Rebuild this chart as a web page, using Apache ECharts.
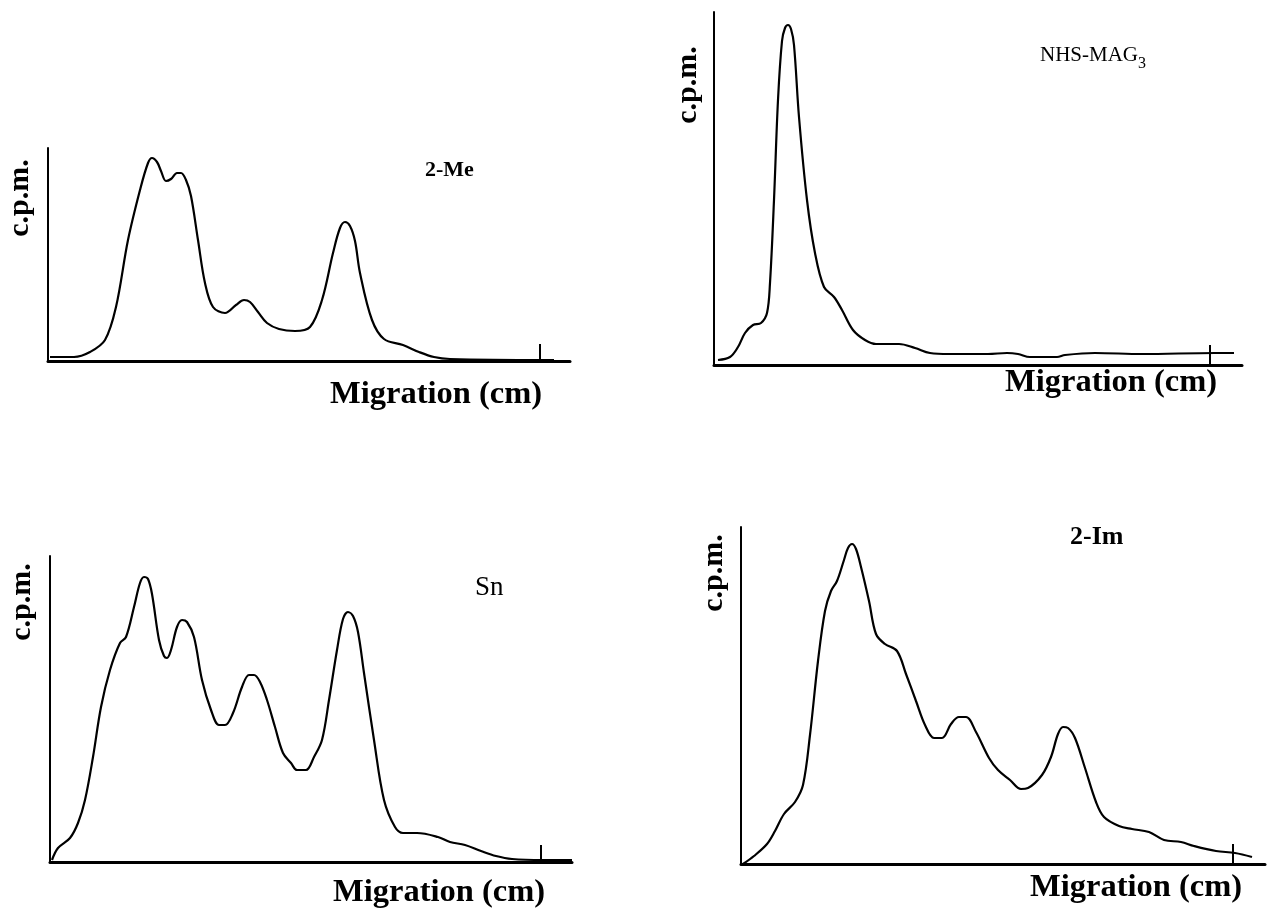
<!DOCTYPE html>
<html><head><meta charset="utf-8">
<script src="https://cdn.jsdelivr.net/npm/echarts@6/dist/echarts.min.js"></script>
<style>html,body{margin:0;padding:0;background:#fff}#c{width:1277px;height:909px}</style>
</head><body><div id="c"></div><script>
// Panel titles
const panelTitles = ['2-Me', 'NHS-MAG', 'Sn', '2-Im'];
const nhsSubscript = '3';
const yAxisLabel = 'c.p.m.';
const xAxisLabel = 'Migration (cm)';

// Radioactivity scans: [migration, counts] (relative units)
const me2Data = [[2,4],[26,4],[42,9],[57,21],[68,54],[80,121],[92,171],[100,198],[104,203],[109,199],[113,190],[118,180],[123,182],[129,188],[133,188],[138,181],[143,165],[150,121],[157,78],[165,54],[177,48],[188,56],[196,61],[202,59],[210,49],[219,38],[231,32],[247,30],[262,34],[274,61],[285,108],[292,133],[297,139],[302,135],[307,120],[312,88],[324,41],[336,22],[355,16],[371,9],[386,4],[402,2],[498,1],[506,1]];
const nhsData = [[4,5],[16,8],[24,18],[31,32],[39,40],[47,42],[53,52],[56,82],[60,165],[64,265],[68,324],[71,337],[74,340],[77,336],[80,320],[85,248],[93,165],[101,112],[110,78],[120,68],[128,55],[139,35],[151,25],[162,21],[185,21],[201,17],[216,12],[235,11],[274,11],[293,12],[304,11],[316,8],[343,8],[351,10],[381,12],[428,11],[501,12],[520,12]];
const snData = [[2,2],[8,14],[20,24],[28,39],[35,62],[43,105],[51,155],[60,192],[70,219],[76,225],[84,255],[90,279],[94,285],[98,283],[102,268],[109,222],[114,206],[117,204],[121,212],[127,235],[132,242],[137,240],[144,225],[152,182],[161,152],[169,137],[175,137],[183,149],[192,175],[199,187],[204,187],[210,180],[217,162],[225,135],[233,109],[241,99],[247,92],[256,92],[264,105],[272,122],[279,162],[287,212],[293,243],[298,250],[303,246],[308,230],[314,189],[324,122],[334,62],[345,35],[353,29],[367,29],[388,25],[400,20],[415,17],[431,11],[446,6],[462,3],[493,2],[522,2]];
const im2Data = [[2,0],[13,8],[26,20],[34,33],[43,50],[54,62],[62,79],[69,129],[77,203],[84,253],[90,273],[96,283],[103,304],[107,316],[111,320],[115,315],[120,297],[128,263],[135,230],[144,220],[156,213],[165,190],[175,163],[184,139],[193,126],[201,126],[210,140],[218,147],[225,147],[235,132],[248,106],[257,94],[269,84],[280,75],[287,76],[301,89],[310,107],[317,130],[322,137],[327,136],[334,126],[344,96],[355,62],[363,47],[378,38],[391,35],[408,32],[423,24],[440,22],[453,18],[475,13],[494,11],[511,7]];

// Solvent-front markers: [migration, bottom, top]
const fronts = [[492, 0, 17], [496, 0, 20], [491, 0, 17], [492, 0, 20]];
const seriesData = [me2Data, nhsData, snData, im2Data];

const grids = [
  {left: 48, top: 148, width: 522, height: 213},
  {left: 714, top: 12, width: 528, height: 353},
  {left: 50, top: 556, width: 522, height: 306},
  {left: 741, top: 527, width: 524, height: 337}
];

const font = 'Liberation Serif, Times New Roman, serif';
const xAxes = grids.map((g, i) => ({
  type: 'value', gridIndex: i, min: 0, max: g.width,
  axisLine: {show: true, onZero: false, lineStyle: {color: '#000', width: 3}},
  axisTick: {show: false}, axisLabel: {show: false}, splitLine: {show: false}
}));
const yAxes = grids.map((g, i) => ({
  type: 'value', gridIndex: i, min: 0, max: g.height,
  axisLine: {show: true, lineStyle: {color: '#000', width: 2}},
  axisTick: {show: false}, axisLabel: {show: false}, splitLine: {show: false}
}));

const series = [];
seriesData.forEach((d, i) => {
  series.push({
    type: 'line', xAxisIndex: i, yAxisIndex: i, data: d, smooth: 0.35,
    showSymbol: false, symbol: 'none', silent: true,
    lineStyle: {color: '#000', width: 2.2}
  });
  const f = fronts[i];
  series.push({
    type: 'line', xAxisIndex: i, yAxisIndex: i,
    data: [[f[0], f[1]], [f[0], f[2]]],
    showSymbol: false, symbol: 'none', silent: true,
    lineStyle: {color: '#000', width: 2}
  });
});

function txt(x, y, text, size, weight, rot, align) {
  return {
    type: 'text', x: x, y: y, rotation: rot || 0,
    style: {text: text, font: weight + ' ' + size + 'px ' + font, fill: '#000',
      textAlign: align || 'left', textVerticalAlign: 'middle'}
  };
}

const graphics = [
  txt(20, 198, yAxisLabel, 30, 'bold', Math.PI / 2, 'center'),
  txt(688, 85, yAxisLabel, 30, 'bold', Math.PI / 2, 'center'),
  txt(22, 602, yAxisLabel, 30, 'bold', Math.PI / 2, 'center'),
  txt(714, 573, yAxisLabel, 30, 'bold', Math.PI / 2, 'center'),
  txt(330, 395, xAxisLabel, 32.5, 'bold'),
  txt(1005, 383, xAxisLabel, 32.5, 'bold'),
  txt(333, 893, xAxisLabel, 32.5, 'bold'),
  txt(1030, 888, xAxisLabel, 32.5, 'bold'),
  txt(425, 170, panelTitles[0], 22, 'bold'),
  txt(1040, 55, panelTitles[1], 21, 'normal'),
  txt(1138, 64, nhsSubscript, 16, 'normal'),
  txt(475, 588, panelTitles[2], 27, 'normal'),
  txt(1070, 537, panelTitles[3], 26, 'bold')
];

const chart = echarts.init(document.getElementById('c'), null, {renderer: 'canvas'});
chart.setOption({
  animation: false,
  backgroundColor: '#fff',
  grid: grids,
  xAxis: xAxes,
  yAxis: yAxes,
  series: series,
  graphic: graphics
});
</script></body></html>
